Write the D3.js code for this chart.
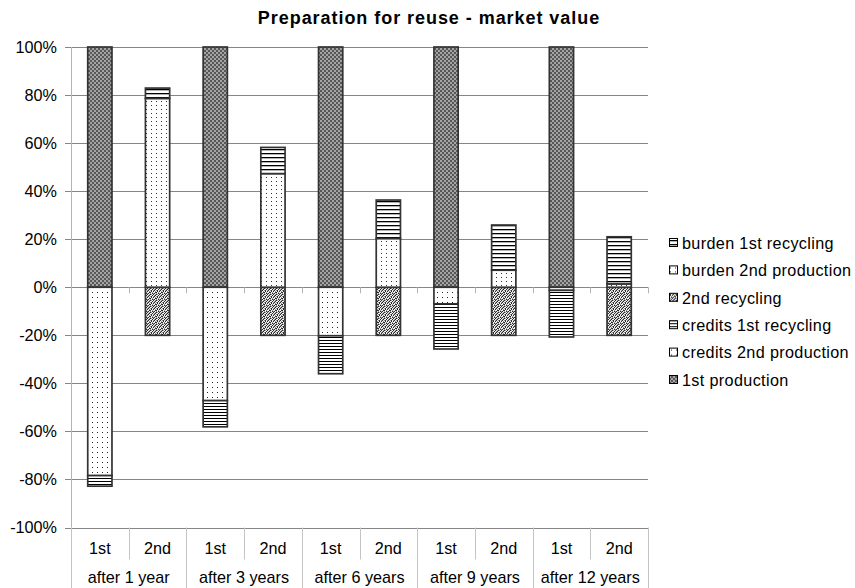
<!DOCTYPE html>
<html>
<head>
<meta charset="utf-8">
<script src="https://cdn.jsdelivr.net/npm/d3@7"></script>
<style>
  html, body { margin: 0; padding: 0; background: #fff; }
  svg { display: block; }
  text { font-family: "Liberation Sans", Arial, sans-serif; fill: #000; }
</style>
</head>
<body>
<svg id="chart" width="855" height="588"></svg>
<script>
// Categories: two lifecycle steps inside each time group
const groups = ["after 1 year", "after 3 years", "after 6 years", "after 9 years", "after 12 years"];
const steps = ["1st", "2nd"];

// Series, in stacking order (percent of market value)
const seriesNames = ["1st production", "credits 2nd production", "credits 1st recycling",
                     "2nd recycling", "burden 2nd production", "burden 1st recycling"];
const firstProduction      = [100, 0, 100, 0, 100, 0, 100, 0, 100, 0];
const credits2ndProduction = [-78.4, 0, -47.2, 0, -20.2, 0, -6.9, 0, -1.3, 0];
const credits1stRecycling  = [-4.4, 0, -10.9, 0, -15.8, 0, -18.8, 0, -19.4, 0];
const secondRecycling      = [0, -20, 0, -20, 0, -20, 0, -20, 0, -20];
const burden2ndProduction  = [0, 78.6, 0, 47.3, 0, 20.3, 0, 7.1, 0, 1.4];
const burden1stRecycling   = [0, 4.3, 0, 10.9, 0, 16.0, 0, 18.8, 0, 19.6];

// Axis ticks
const yTicks = [-100, -80, -60, -40, -20, 0, 20, 40, 60, 80, 100];
// Legend order (top to bottom)
const legendOrder = ["burden 1st recycling", "burden 2nd production", "2nd recycling",
                     "credits 1st recycling", "credits 2nd production", "1st production"];

const seriesValues = [firstProduction, credits2ndProduction, credits1stRecycling,
                      secondRecycling, burden2ndProduction, burden1stRecycling];

// Build one row per bar
const rows = [];
groups.forEach((g, gi) => steps.forEach((s, si) => {
  const i = gi * steps.length + si;
  const row = { key: g + "|" + s, group: g, step: s };
  seriesNames.forEach((n, k) => row[n] = seriesValues[k][i]);
  rows.push(row);
}));

const svg = d3.select("#chart");
const margin = { left: 71, right: 207, top: 47, bottom: 60 };
const W = 855, H = 588;
const plotRight = W - margin.right;
const plotBottom = H - margin.bottom - 0.5;
const fontSize = 16.2;

const x = d3.scaleBand().domain(rows.map(r => r.key)).range([margin.left, plotRight]).paddingInner(0.58).paddingOuter(0.29);
const xOuter = d3.scaleBand().domain(rows.map(r => r.key)).range([margin.left, plotRight]);
const y = d3.scaleLinear().domain([-100, 100]).range([plotBottom, margin.top]);

// Fill patterns
const defs = svg.append("defs");
function pattern(id, w, h, draw) {
  const p = defs.append("pattern").attr("id", id).attr("patternUnits", "userSpaceOnUse")
    .attr("width", w).attr("height", h);
  draw(p);
}
function pixels(p, list, color) {
  list.forEach(([a, b]) =>
    p.append("rect").attr("x", a).attr("y", b).attr("width", 1).attr("height", 1).attr("fill", color));
}
pattern("pProd", 4, 4, p => {
  p.append("rect").attr("width", 4).attr("height", 4).attr("fill", "#585858");
  p.append("rect").attr("width", 2).attr("height", 2).attr("fill", "#a4a4a4");
  p.append("rect").attr("x", 2).attr("y", 2).attr("width", 2).attr("height", 2).attr("fill", "#a4a4a4");
});
// fine grainy grey texture
pattern("pRec", 6, 6, p => {
  p.append("rect").attr("width", 6).attr("height", 6).attr("fill", "#f2f2f2");
  pixels(p, [[0,0],[3,0],[2,1],[5,1],[1,2],[4,2],[3,3],[0,4],[5,4],[2,5],[4,5],[1,3]], "#2a2a2a");
  pixels(p, [[1,0],[4,1],[0,2],[5,3],[2,4],[3,5],[5,0],[0,5],[3,2]], "#9a9a9a");
});
pattern("pDots", 5, 5, p => {
  p.append("rect").attr("width", 5).attr("height", 5).attr("fill", "#fff");
  p.append("rect").attr("x", 2).attr("y", 2).attr("width", 1).attr("height", 1).attr("fill", "#222");
});
pattern("pDots2", 5, 4, p => {
  p.append("rect").attr("width", 5).attr("height", 4).attr("fill", "#fff");
  p.append("rect").attr("x", 1).attr("y", 1).attr("width", 1).attr("height", 1).attr("fill", "#333");
});
pattern("pLinesDense", 6, 3, p => {
  p.append("rect").attr("width", 6).attr("height", 3).attr("fill", "#fff");
  p.append("rect").attr("y", 1).attr("width", 6).attr("height", 1).attr("fill", "#000");
});
pattern("pLinesWide", 6, 4, p => {
  p.append("rect").attr("width", 6).attr("height", 4).attr("fill", "#fff");
  p.append("rect").attr("y", 1).attr("width", 6).attr("height", 1.3).attr("fill", "#000");
});
const fills = {
  "1st production": "url(#pProd)",
  "credits 2nd production": "url(#pDots)",
  "credits 1st recycling": "url(#pLinesDense)",
  "2nd recycling": "url(#pRec)",
  "burden 2nd production": "url(#pDots2)",
  "burden 1st recycling": "url(#pLinesWide)"
};

// Gridlines and y axis
const grid = svg.append("g");
grid.selectAll("line.g").data(yTicks).join("line")
  .attr("x1", margin.left - 6).attr("x2", plotRight)
  .attr("y1", d => Math.round(y(d)) + 0.5).attr("y2", d => Math.round(y(d)) + 0.5)
  .attr("stroke", "#868686").attr("stroke-width", 1);
svg.append("line").attr("x1", margin.left + 0.5).attr("x2", margin.left + 0.5)
  .attr("y1", margin.top).attr("y2", plotBottom).attr("stroke", "#b4b4b4");

svg.append("g").selectAll("text").data(yTicks).join("text")
  .attr("x", 57).attr("y", d => y(d)).attr("dy", "0.36em")
  .attr("text-anchor", "end").attr("font-size", fontSize)
  .text(d => d + "%");

// Small ticks under the zero line between categories
const boundaries = rows.map(r => xOuter(r.key)).slice(1).concat([plotRight]);
svg.append("g").selectAll("line").data(boundaries).join("line")
  .attr("x1", d => Math.round(d) + 0.5).attr("x2", d => Math.round(d) + 0.5)
  .attr("y1", y(0)).attr("y2", y(0) + 6).attr("stroke", "#b4b4b4");

// Stacked bars
const stack = d3.stack().keys(seriesNames).offset(d3.stackOffsetDiverging);
const layers = stack(rows);
const bars = svg.append("g");
layers.forEach(layer => {
  bars.append("g").selectAll("rect")
    .data(layer.filter(d => d[1] - d[0] !== 0))
    .join("rect")
    .attr("x", d => x(d.data.key))
    .attr("width", x.bandwidth())
    .attr("y", d => y(d[1]))
    .attr("height", d => y(d[0]) - y(d[1]))
    .attr("fill", fills[layer.key])
    .attr("stroke", "#333").attr("stroke-width", 1.7);
});

// Category axis: steps and groups
const axisG = svg.append("g");
const stepY = plotBottom + 32;
rows.forEach((r, i) => {
  const x0 = xOuter(r.key);
  const isGroupEdge = i % 2 === 0;
  axisG.append("line")
    .attr("x1", Math.round(x0) + 0.5).attr("x2", Math.round(x0) + 0.5)
    .attr("y1", plotBottom).attr("y2", isGroupEdge ? H : stepY)
    .attr("stroke", "#c4c4c4");
  axisG.append("text")
    .attr("x", x0 + xOuter.bandwidth() / 2).attr("y", plotBottom + 21)
    .attr("dy", "0.36em").attr("text-anchor", "middle").attr("font-size", fontSize)
    .text(r.step);
});
axisG.append("line").attr("x1", Math.round(plotRight) + 0.5).attr("x2", Math.round(plotRight) + 0.5)
  .attr("y1", plotBottom).attr("y2", H).attr("stroke", "#c4c4c4");
groups.forEach((g, gi) => {
  const k0 = rows[gi * 2].key;
  axisG.append("text")
    .attr("x", xOuter(k0) + xOuter.bandwidth()).attr("y", plotBottom + 50)
    .attr("dy", "0.36em").attr("text-anchor", "middle").attr("font-size", fontSize)
    .text(g);
});

// Title
svg.append("text").attr("x", 429).attr("y", 24)
  .attr("text-anchor", "middle").attr("font-size", 18).attr("font-weight", "bold")
  .attr("letter-spacing", 0.95)
  .text("Preparation for reuse - market value");

// Legend
const legend = svg.append("g").attr("transform", "translate(669,243)");
legendOrder.forEach((name, i) => {
  const gI = legend.append("g").attr("transform", `translate(0,${i * 27.4})`);
  gI.append("rect").attr("x", 0.5).attr("y", -4.5).attr("width", 8).attr("height", 8)
    .attr("fill", fills[name]).attr("stroke", "#000").attr("stroke-width", 1);
  gI.append("text").attr("x", 13).attr("y", 0).attr("dy", "0.36em")
    .attr("font-size", fontSize).attr("letter-spacing", 0.35).text(name);
});
</script>
</body>
</html>
